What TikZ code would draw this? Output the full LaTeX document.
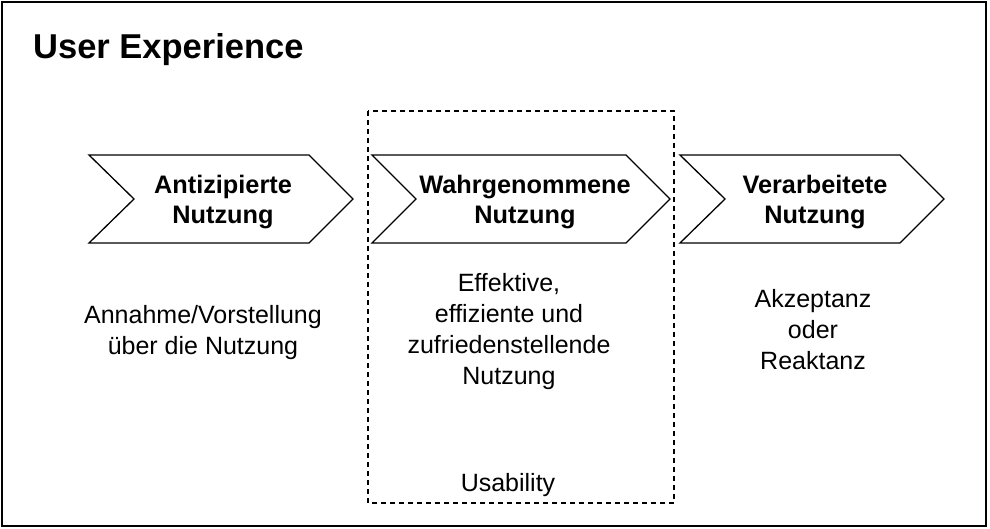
\documentclass[tikz,border=0pt]{standalone}
\usepackage{fontspec}
\setmainfont{Liberation Sans}
\begin{document}
\begin{tikzpicture}[x=1pt,y=-1pt,
  frame/.style={draw=black,line width=2pt},
  chev/.style={draw=black,line width=1.3pt,fill=white,line join=miter},
  usab/.style={draw=black,line width=1.5pt,dash pattern=on 5pt off 4pt},
  head/.style={font=\fontsize{25.3}{30}\selectfont\bfseries,align=center,inner sep=0pt},
  body/.style={font=\fontsize{25}{31}\selectfont,align=center,inner sep=0pt},
  titlestyle/.style={font=\fontsize{34.5}{40}\selectfont\bfseries,inner sep=0pt,anchor=base west}]
\useasboundingbox (0,0) rectangle (990,529);
\fill[white] (0,0) rectangle (990,529);
\draw[frame] (2,2) rectangle (986,526);
\draw[usab] (368,111) rectangle (674,503);
\draw[chev] (89,155) -- (309,155) -- (353,199) -- (309,243) -- (89,243) -- (134,199) -- cycle;
\draw[chev] (372,155) -- (626,155) -- (670,199) -- (626,243) -- (372,243) -- (416,199) -- cycle;
\draw[chev] (680,155) -- (900,155) -- (944,199) -- (900,243) -- (680,243) -- (725,199) -- cycle;
\node[titlestyle] (ux) at (33,59) {User Experience};
\node[head] (h1) at (223,202) {Antizipierte\\Nutzung};
\node[head] (h2) at (525,202) {Wahrgenommene\\Nutzung};
\node[head] (h3) at (815,202) {Verarbeitete\\Nutzung};
\node[body] (b1) at (203,333) {Annahme/Vorstellung\\über die Nutzung};
\node[body] (b2) at (509,332) {Effektive,\\effiziente und\\zufriedenstellende\\Nutzung};
\node[body] (b3) at (813,330) {Akzeptanz\\oder\\Reaktanz};
\node[body] (us) at (508,485) {Usability};
\end{tikzpicture}
\end{document}
